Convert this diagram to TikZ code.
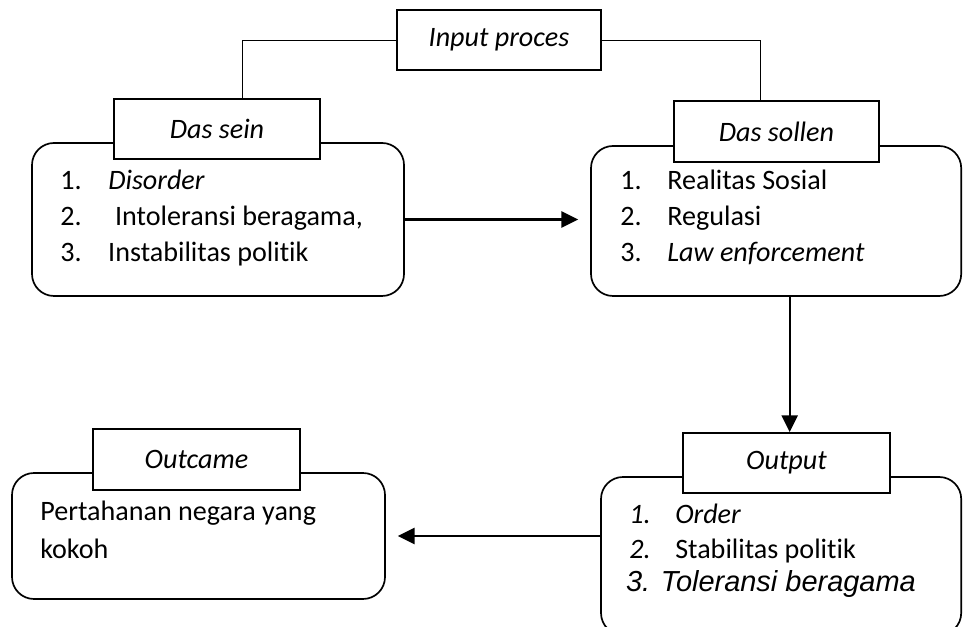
\documentclass[tikz,border=0pt]{standalone}
\usepackage{fontspec}
\setmainfont{Carlito}[Ligatures=CommonOff]
\newfontfamily\arialfont{Liberation Sans}
\usetikzlibrary{arrows.meta}

\tikzset{
  panel/.style={draw, line width=1.2pt, rounded corners=0.55cm, inner sep=0pt},
  tab/.style={draw, fill=white, line width=1.2pt, inner sep=0pt,
    minimum width=5.15cm, minimum height=1.5cm, font=\fontsize{20}{25.5}\selectfont\itshape},
  list/.style={anchor=west, inner sep=0pt, font=\fontsize{20}{25.5}\selectfont},
  link/.style={line width=0.6pt},
  flow/.style={line width=2pt, -{Triangle[length=0.42cm,width=0.4cm]}}
}

\begin{document}
\begin{tikzpicture}[scale=1.0]
  \useasboundingbox (0,0) rectangle (24.075,15.675);
  \clip (0,0) rectangle (24.075,15.675);
  % Rounded panels
  \node[panel, minimum width=9.3cm, minimum height=3.825cm] (seinbox) at (5.45,10.1875) {};
  \node[panel, minimum width=9.255cm, minimum height=3.75cm] (sollenbox) at (19.4025,10.15) {};
  \node[panel, minimum width=9.005cm, minimum height=3.95cm] (outbox) at (19.5275,1.775) {};
  \node[panel, minimum width=9.325cm, minimum height=3.15cm] (outcomebox) at (4.9625,2.275) {};
  % Title tabs
  \node[tab, minimum width=5.1cm] (inp) at (12.475,14.675) {Input proces};
  \node[tab] (sein) at (5.425,12.45) {Das sein};
  \node[tab, minimum width=5.125cm, minimum height=1.525cm] (sollen) at (19.4125,12.3875) {Das sollen};
  \node[tab, minimum width=5.175cm] (outtab) at (19.6625,4.1) {Output};
  \node[tab, minimum width=5.175cm, minimum height=1.525cm] (outcome) at (4.9125,4.1875) {Outcame};
  % Lists inside the panels
  \node[list] (seinlist) at (1.5,10.22) {%
    \begin{tabular}{@{}p{1.2cm}@{}l@{}}
      1. & \textit{Disorder}\\
      2. & \hspace{0.17cm}Intoleransi beragama,\\
      3. & Instabilitas politik
    \end{tabular}};
  \node[list] (sollenlist) at (15.5,10.22) {%
    \begin{tabular}{@{}p{1.175cm}@{}l@{}}
      1. & Realitas Sosial\\
      2. & Regulasi\\
      3. & \textit{Law enforcement}
    \end{tabular}};
  \node[list] (outlist) at (15.725,1.92) {%
    \begin{tabular}{@{}p{1.15cm}@{}l@{}}
      \textit{1.} & \textit{Order}\\
      \textit{2.} & Stabilitas politik\\[-0.075cm]
      \multicolumn{2}{@{}l@{}}{\hspace{-0.08cm}\arialfont\fontsize{20.6}{25.5}\selectfont\itshape 3. Toleransi beragama}
    \end{tabular}};
  \node[list, align=left, font=\fontsize{20}{27}\selectfont] (outcometext) at (1.0,2.43)
    {Pertahanan negara yang\\kokoh};
  % Connectors
  \draw[link] (inp.west) -| ([xshift=0.625cm]sein.north);
  \draw[link] (inp.east) -| ([xshift=-0.41cm]sollen.north);
  \draw[flow, shorten >=0.3cm] (seinbox.east) -- (seinbox.east -| sollenbox.west);
  \draw[flow, line width=1.5pt] ([xshift=0.08cm]outtab.north |- sollenbox.south) -- ([xshift=0.08cm]outtab.north);
  \draw[flow, shorten >=0.3cm] (outcomebox.east -| outbox.west) -- (outcomebox.east);
\end{tikzpicture}
\end{document}
